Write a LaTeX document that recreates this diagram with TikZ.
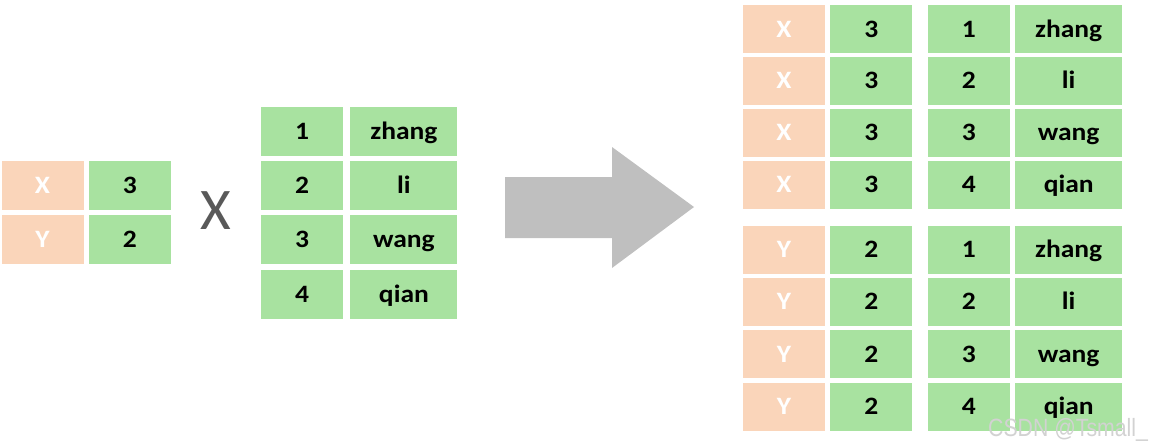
\documentclass[tikz,border=0pt]{standalone}
\usepackage{fontspec}
\setmainfont{Carlito}
\newfontfamily\cellfont[FakeStretch=1.1]{Carlito}
\newfontfamily\markfont[FakeStretch=0.85]{Liberation Sans}
\usetikzlibrary{positioning}
\definecolor{keyorange}{RGB}{250,213,186}
\definecolor{valgreen}{RGB}{168,226,160}
\definecolor{arrowgray}{RGB}{191,191,191}
\definecolor{timesgray}{RGB}{89,89,89}
\definecolor{markgray}{RGB}{210,210,210}

\begin{document}
\begin{tikzpicture}[x=1pt,y=-1pt,
    cell/.style={inner sep=0pt,minimum width=82pt,minimum height=49pt,
      text height=16pt,text depth=0pt,
      font=\cellfont\bfseries\fontsize{25}{25}\selectfont},
    key/.style={cell,fill=keyorange,text=white},
    val/.style={cell,fill=valgreen,text=black},
    wide/.style={val,minimum width=107pt},
    node distance=5pt]

  \useasboundingbox (0,0) rectangle (1153,445);

  % left table
  \node[key] (L11) at (42.5,185) {X};
  \node[val,right=of L11] (L12) {3};
  \node[key,below=of L11] (L21) {Y};
  \node[val,right=of L21] (L22) {2};

  \node[inner sep=0pt,text=timesgray,
    font=\fontsize{59}{59}\selectfont] (times) at (216,211) {X};

  % middle table
  \node[val] (M11) at (302,131) {1};
  \node[wide,right=7pt of M11] (M12) {zhang};
  \node[val,below=of M11] (M21) {2};
  \node[wide,right=7pt of M21] (M22) {li};
  \node[val,below=of M21] (M31) {3};
  \node[wide,right=7pt of M31] (M32) {wang};
  \node[val,below=of M31] (M41) {4};
  \node[wide,right=7pt of M41] (M42) {qian};

  % big arrow
  \fill[arrowgray] (505,177) -- (612,177) -- (612,147) -- (694,207)
    -- (612,268) -- (612,238) -- (505,238) -- cycle;

  % result, top half
  \begin{scope}[node distance=3.5pt and 5pt,
      cell/.append style={minimum height=48pt}]
    \node[key] (T11) at (784,29) {X};
    \node[val,right=of T11] (T12) {3};
    \node[val,right=15pt of T12] (T13) {1};
    \node[wide,right=of T13] (T14) {zhang};
    \node[key,below=of T11] (T21) {X};
    \node[val,right=of T21] (T22) {3};
    \node[val,right=15pt of T22] (T23) {2};
    \node[wide,right=of T23] (T24) {li};
    \node[key,below=of T21] (T31) {X};
    \node[val,right=of T31] (T32) {3};
    \node[val,right=15pt of T32] (T33) {3};
    \node[wide,right=of T33] (T34) {wang};
    \node[key,below=of T31] (T41) {X};
    \node[val,right=of T41] (T42) {3};
    \node[val,right=15pt of T42] (T43) {4};
    \node[wide,right=of T43] (T44) {qian};
  \end{scope}

  % result, bottom half
  \begin{scope}[node distance=4pt and 5pt,
      cell/.append style={minimum height=48pt}]
    \node[key] (B11) at (784,249.5) {Y};
    \node[val,right=of B11] (B12) {2};
    \node[val,right=15pt of B12] (B13) {1};
    \node[wide,right=of B13] (B14) {zhang};
    \node[key,below=of B11] (B21) {Y};
    \node[val,right=of B21] (B22) {2};
    \node[val,right=15pt of B22] (B23) {2};
    \node[wide,right=of B23] (B24) {li};
    \node[key,below=of B21] (B31) {Y};
    \node[val,right=of B31] (B32) {2};
    \node[val,right=15pt of B32] (B33) {3};
    \node[wide,right=of B33] (B34) {wang};
    \node[key,below=of B31] (B41) {Y};
    \node[val,right=of B41] (B42) {2};
    \node[val,right=15pt of B42] (B43) {4};
    \node[wide,right=of B43] (B44) {qian};
  \end{scope}

  \node[anchor=base west,inner sep=0pt,text=markgray,
    font=\markfont\fontsize{25}{25}\selectfont] (mark) at (988,436) {CSDN @Tsmall\_};

\end{tikzpicture}
\end{document}
